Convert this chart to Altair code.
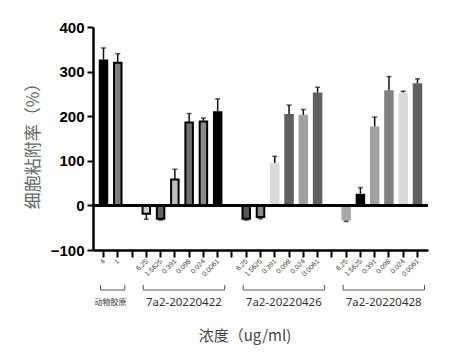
import altair as alt
import pandas as pd

# ---- data ----
groups = ["动物胶原", "7a2-20220422", "7a2-20220426", "7a2-20220428"]
concs_ctrl = ["4", "1"]
concs = ["6.25", "1.5625", "0.391", "0.098", "0.024", "0.0061"]
group_concs = [concs_ctrl, concs, concs, concs]

values = [
    [327, 320],
    [-19, -30, 58, 186, 188, 211],
    [-30, -26, 95, 205, 203, 253],
    [-34, 26, 177, 258, 253, 274],
]
errors = [
    [26, 20],
    [-12, -3, 23, 20, 8, 28],
    [-3, -4, 15, 20, 12, 12],
    [-2, 14, 21, 31, 3, 10],
]
x_title = "浓度（ug/ml)"
y_title = "细胞粘附率（%）"
# styles
colors = [
    ["#000000", "#7f7f7f"],
    ["#cfcfcf", "#646464", "#bdbdbd", "#707070", "#8a8a8a", "#000000"],
    ["#555555", "#8a8a8a", "#d9d9d9", "#5f5f5f", "#a0a0a0", "#606060"],
    ["#a8a8a8", "#000000", "#a0a0a0", "#808080", "#d9d9d9", "#606060"],
]
outlined = [
    [False, True],
    [True, True, True, True, True, False],
    [True, True, False, False, False, False],
    [False, False, False, False, False, False],
]

# ---- build tables ----
keys = []
rows = []
grp_rows = []
for gi, g in enumerate(groups):
    if gi > 0:
        keys.append(f"gap{gi}")
    gkeys = []
    for ci, c in enumerate(group_concs[gi]):
        k = f"{g}|{c}"
        keys.append(k)
        gkeys.append(k)
        rows.append(dict(key=k, conc=c, value=values[gi][ci], err=values[gi][ci] + errors[gi][ci],
                         color=colors[gi][ci], outlined=outlined[gi][ci]))
    grp_rows.append(dict(group=g, start=gkeys[0], end=gkeys[-1],
                         mid=gkeys[(len(gkeys) - 1) // 2], small=(gi == 0)))

df = pd.DataFrame(rows)
gdf = pd.DataFrame(grp_rows)

W, H = 335, 223

xscale = alt.Scale(domain=keys, paddingInner=0.35, paddingOuter=0.41)
yscale = alt.Scale(domain=[-100, 400], nice=False)

xaxis = alt.Axis(
    labels=False,
    tickSize=7, tickWidth=2, tickColor="black", domainColor="black", domainWidth=2.5,
    title="", grid=False,
)
yaxis = alt.Axis(
    values=[-100, 0, 100, 200, 300, 400],
    labelFont="Liberation Sans", labelFontSize=15, labelFontWeight="bold",
    labelColor="black", labelPadding=3, tickSize=6, tickWidth=2, tickColor="black",
    domainColor="black", domainWidth=2.5, title="", grid=False,
)


def xenc(field):
    return alt.X(f"{field}:N", scale=xscale, axis=xaxis, title="")


def yenc(field):
    return alt.Y(f"{field}:Q", scale=yscale, axis=yaxis, title="")


base = alt.Chart(df)

bars_out = base.transform_filter("datum.outlined").mark_bar(
    width=7.5, stroke="black", strokeWidth=2
).encode(
    x=xenc("key"),
    y=yenc("value"),
    y2=alt.datum(0),
    fill=alt.Fill("color:N", scale=None),
)
bars_plain = base.transform_filter("!datum.outlined").mark_bar(width=9.5).encode(
    x=xenc("key"),
    y=yenc("value"),
    y2=alt.datum(0),
    fill=alt.Fill("color:N", scale=None),
)
err_rule = base.mark_rule(color="#111", strokeWidth=1.5).encode(
    x=xenc("key"),
    y=yenc("value"),
    y2="err:Q",
)
err_cap = base.mark_tick(color="#111", thickness=1.5, size=5).encode(
    x=xenc("key"),
    y=yenc("err"),
)
zero = alt.Chart(df).mark_rule(color="black", strokeWidth=2).encode(
    y=alt.datum(0, scale=yscale, axis=yaxis, title="")
)
# tick labels (rotated)
xlabels = base.mark_text(
    font="Liberation Sans", fontSize=7, color="#444", angle=315,
    align="right", baseline="middle", dx=1,
).encode(x=xenc("key"), y=alt.value(H + 11), text="conc:N")

gbase = alt.Chart(gdf)
bracket = gbase.mark_rule(color="#555", strokeWidth=1, xOffset=-3, x2Offset=7).encode(
    x=xenc("start"), x2="end:N", y=alt.value(263)
)
lend = gbase.mark_rule(color="#555", strokeWidth=1, xOffset=-3).encode(
    x=xenc("start"), y=alt.value(258), y2=alt.value(263)
)
rend = gbase.mark_rule(color="#555", strokeWidth=1, xOffset=7).encode(
    x=xenc("end"), y=alt.value(258), y2=alt.value(263)
)
glabel_big = gbase.transform_filter("!datum.small").mark_text(
    font="Noto Sans", fontSize=11.5, color="#333", dx=9, baseline="middle", align="center"
).encode(x=xenc("mid"), y=alt.value(276), text="group:N")
glabel_small = gbase.transform_filter("datum.small").mark_text(
    font="Noto Sans CJK SC", fontSize=8, color="#333", dx=7, baseline="middle", align="center"
).encode(x=xenc("mid"), y=alt.value(276), text="group:N")

# axis titles
ttl = pd.DataFrame({"xt": [x_title], "yt": [y_title]})
xtitle = alt.Chart(ttl).mark_text(
    font="Noto Sans CJK SC", fontSize=15, color="#444", align="center", baseline="middle"
).encode(x=alt.value(152), y=alt.value(309), text="xt:N")
ytitle = alt.Chart(ttl).mark_text(
    font="Noto Sans CJK SC", fontSize=17, color="#666", align="center", baseline="middle",
    angle=270,
).encode(x=alt.value(-59), y=alt.value(115), text="yt:N")

chart = alt.layer(
    bars_out, bars_plain, err_rule, err_cap, zero, xlabels,
    bracket, lend, rend, glabel_big, glabel_small, xtitle, ytitle,
).properties(
    width=W, height=H,
    background="white",
    autosize=alt.AutoSizeParams(type="none"),
    padding={"left": 85, "top": 19, "right": 10, "bottom": 97},
).configure_view(strokeWidth=0, stroke="transparent")

chart.save("out.html", embed_options={"renderer": "svg", "actions": False})
